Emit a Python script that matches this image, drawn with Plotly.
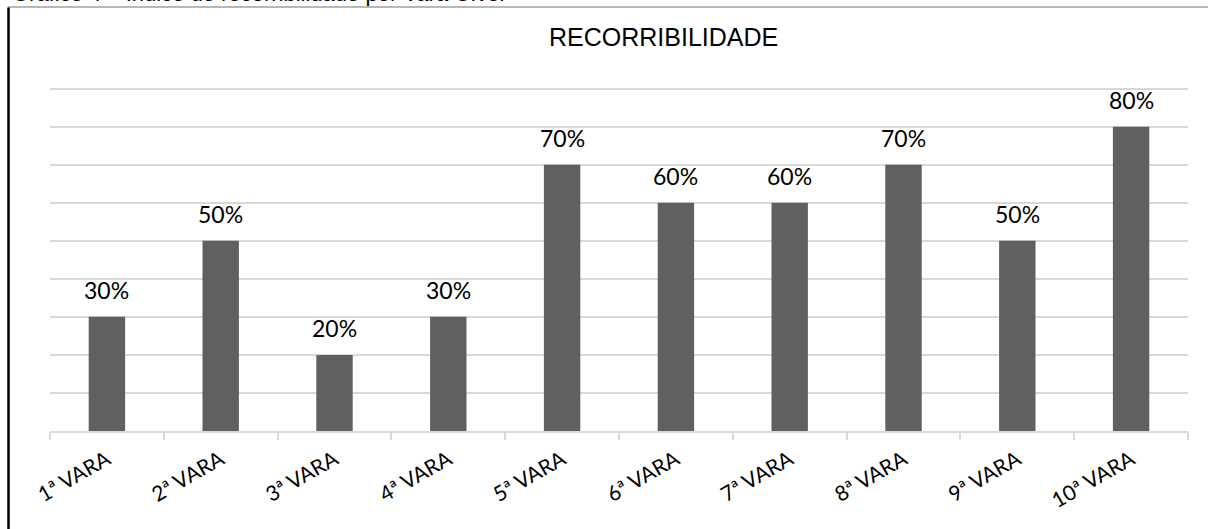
import plotly.graph_objects as go

# Recorribilidade por vara
varas = ["1ª VARA", "2ª VARA", "3ª VARA", "4ª VARA", "5ª VARA",
         "6ª VARA", "7ª VARA", "8ª VARA", "9ª VARA", "10ª VARA"]
recorribilidade = [0.30, 0.50, 0.20, 0.30, 0.70, 0.60, 0.60, 0.70, 0.50, 0.80]
rotulos = ["30%", "50%", "20%", "30%", "70%", "60%", "60%", "70%", "50%", "80%"]

W, H = 1208, 529
Y_MAX = 0.92          # a little headroom so the 90% gridline is drawn
PX_PER_UNIT = 380     # 38 px per 10%
ML, MR, MB = 50, 20, 98
PH = Y_MAX * PX_PER_UNIT
MT = H - MB - PH
PW = W - ML - MR

LABEL_FONT = dict(family="Lato, Calibri, sans-serif", size=23, color="#000000")


def px_x(px):
    return (px - ML) / PW


def px_y(py):
    return (H - MB - py) / PH


fig = go.Figure(go.Bar(
    x=varas,
    y=recorribilidade,
    marker=dict(color="#606060", line=dict(width=0)),
    width=0.32,
    hovertext=rotulos,
))

# value labels above each bar, placed at the bar's own value
value_labels = [
    dict(x=v, y=val, xref="x", yref="y", text=t, showarrow=False,
         xanchor="center", yanchor="middle", yshift=27, font=LABEL_FONT)
    for v, val, t in zip(varas, recorribilidade, rotulos)
]

fig.update_layout(
    width=W, height=H,
    margin=dict(l=ML, r=MR, t=MT, b=MB),
    paper_bgcolor="white",
    plot_bgcolor="white",
    showlegend=False,
    font=dict(family="Lato, Calibri, sans-serif", color="#000000"),
    xaxis=dict(
        showline=True, linecolor="#d9d9d9", linewidth=2,
        ticks="outside", tickson="boundaries", ticklen=7,
        tickcolor="#d9d9d9", tickwidth=2,
        tickangle=-30,
        ticklabelstandoff=6,
        tickfont=dict(family="Lato, Calibri, sans-serif", size=21, color="#000000"),
        showgrid=False,
    ),
    yaxis=dict(
        range=[0, Y_MAX],
        tick0=0,
        dtick=0.1,
        showgrid=True, gridcolor="#d9d9d9", gridwidth=2,
        showticklabels=False,
        zeroline=False,
        showline=False,
    ),
    annotations=value_labels + [
        dict(
            text="RECORRIBILIDADE",
            xref="paper", yref="paper",
            x=px_x(663), y=px_y(37),
            xanchor="center", yanchor="middle",
            showarrow=False,
            font=dict(family="Liberation Sans, Arial, sans-serif", size=25, color="#000000"),
        ),
        dict(
            text="Gráfico 4 – Índice de recorribilidade por Vara Cível",
            xref="paper", yref="paper",
            x=px_x(10), y=px_y(8.5),
            xanchor="left", yanchor="bottom",
            showarrow=False,
            font=dict(family="Liberation Sans, Arial, sans-serif", size=22, color="#000000"),
        ),
    ],
    shapes=[
        # moldura: linha superior cinza
        dict(type="line", xref="paper", yref="paper",
             x0=px_x(8), x1=px_x(W + 2), y0=px_y(7.5), y1=px_y(7.5),
             line=dict(color="#a0a0a0", width=1.5)),
        # moldura: linha lateral esquerda
        dict(type="line", xref="paper", yref="paper",
             x0=px_x(8.5), x1=px_x(8.5), y0=px_y(8), y1=px_y(H + 2),
             line=dict(color="#000000", width=2.5)),
    ],
)

fig.write_html("out.html")
